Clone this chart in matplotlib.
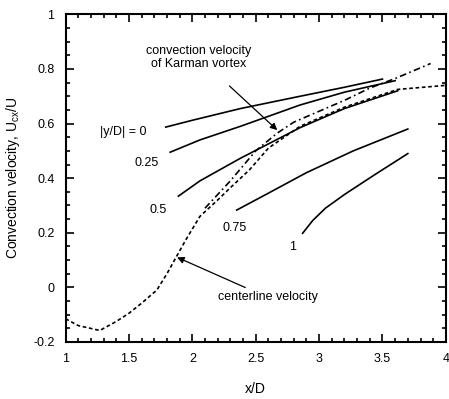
import matplotlib
matplotlib.use("Agg")
import matplotlib.pyplot as plt
from matplotlib.ticker import MultipleLocator, FixedFormatter, FixedLocator

plt.rcParams['font.family'] = ['Liberation Sans', 'DejaVu Sans']

# solid curves for |y/D| = 0, 0.25, 0.5, 0.75, 1
x_y0 = [1.79, 2.0, 2.38, 2.85, 3.2, 3.5]
u_y0 = [0.587, 0.612, 0.655, 0.70, 0.733, 0.763]

x_y25 = [1.825, 2.06, 2.38, 2.85, 3.2, 3.6]
u_y25 = [0.495, 0.54, 0.59, 0.668, 0.715, 0.757]

x_y50 = [1.89, 2.06, 2.38, 2.85, 3.2, 3.62]
u_y50 = [0.334, 0.39, 0.473, 0.585, 0.655, 0.72]

x_y75 = [2.35, 2.6, 2.9, 3.27, 3.70]
u_y75 = [0.283, 0.345, 0.42, 0.50, 0.58]

x_y100 = [2.87, 2.95, 3.05, 3.2, 3.43, 3.70]
u_y100 = [0.198, 0.245, 0.29, 0.34, 0.41, 0.49]

# centerline velocity (dotted)
x_cl = [1.0, 1.1, 1.27, 1.4, 1.5, 1.6, 1.72, 1.8, 1.88, 1.95, 2.06, 2.2, 2.3, 2.45, 2.6, 2.85, 3.2, 3.62, 4.0]
u_cl = [-0.115, -0.14, -0.158, -0.125, -0.095, -0.058, -0.01, 0.05, 0.117, 0.175, 0.26, 0.32, 0.365, 0.43, 0.51, 0.59, 0.66, 0.725, 0.74]

# convection velocity of Karman vortex (dash-dot)
x_kv = [2.1, 2.3, 2.5, 2.67, 2.8, 3.0, 3.2, 3.4, 3.6, 3.88]
u_kv = [0.29, 0.39, 0.5, 0.565, 0.605, 0.645, 0.685, 0.73, 0.765, 0.82]

curve_labels = ['|y/D| = 0', '0.25', '0.5', '0.75', '1']

fig = plt.figure(figsize=(4.49, 3.99), dpi=100)
ax = fig.add_axes([0.146, 0.143, 0.847, 0.821])

for xs, us in [(x_y0, u_y0), (x_y25, u_y25), (x_y50, u_y50), (x_y75, u_y75), (x_y100, u_y100)]:
    ax.plot(xs, us, color='black', lw=1.2)

ax.plot(x_cl, u_cl, color='black', lw=1.2, linestyle=(0, (2.2, 1.6)))
ax.plot(x_kv, u_kv, color='black', lw=1.2, linestyle=(0, (4, 2, 1, 2)))

# curve labels
ax.text(1.27, 0.57, curve_labels[0], fontsize=9, ha='left', va='center')
ax.text(1.64, 0.455, curve_labels[1], fontsize=9, ha='center', va='center')
ax.text(1.73, 0.283, curve_labels[2], fontsize=9, ha='center', va='center')
ax.text(2.33, 0.216, curve_labels[3], fontsize=9, ha='center', va='center')
ax.text(2.79, 0.147, curve_labels[4], fontsize=9, ha='center', va='center')

ax.annotate('convection velocity\nof Karman vortex', xy=(2.67, 0.576), xytext=(2.05, 0.842),
            fontsize=9, ha='center', va='center', linespacing=1.1,
            arrowprops=dict(arrowstyle='-|>', color='black', lw=0.9,
                            shrinkA=14, shrinkB=0, mutation_scale=10))
ax.annotate('centerline velocity', xy=(1.88, 0.11), xytext=(2.2, -0.037),
            fontsize=9, ha='left', va='center',
            arrowprops=dict(arrowstyle='-|>', color='black', lw=0.9,
                            shrinkA=2, shrinkB=0, mutation_scale=10))

ax.set_xlim(1, 4)
ax.set_ylim(-0.2, 1)
ax.xaxis.set_major_locator(FixedLocator([1, 1.5, 2, 2.5, 3, 3.5, 4]))
ax.xaxis.set_major_formatter(FixedFormatter(['1', '1.5', '2', '2.5', '3', '3.5', '4']))
ax.yaxis.set_major_locator(FixedLocator([-0.2, 0, 0.2, 0.4, 0.6, 0.8, 1]))
ax.yaxis.set_major_formatter(FixedFormatter(['-0.2', '0', '0.2', '0.4', '0.6', '0.8', '1']))
ax.xaxis.set_minor_locator(MultipleLocator(0.1))
ax.yaxis.set_minor_locator(MultipleLocator(0.05))
ax.tick_params(which='both', direction='in', top=True, right=True, width=1.2, labelsize=9)
ax.tick_params(which='major', length=6, pad=8)
ax.tick_params(which='minor', length=3)
for s in ax.spines.values():
    s.set_linewidth(1.5)

ax.set_xlabel('x/D', fontsize=10, labelpad=12)
ax.set_ylabel(r'Convection velocity, $\mathregular{U_{cx}/U}$', fontsize=10, labelpad=8)

fig.savefig('out.png', dpi=100)
